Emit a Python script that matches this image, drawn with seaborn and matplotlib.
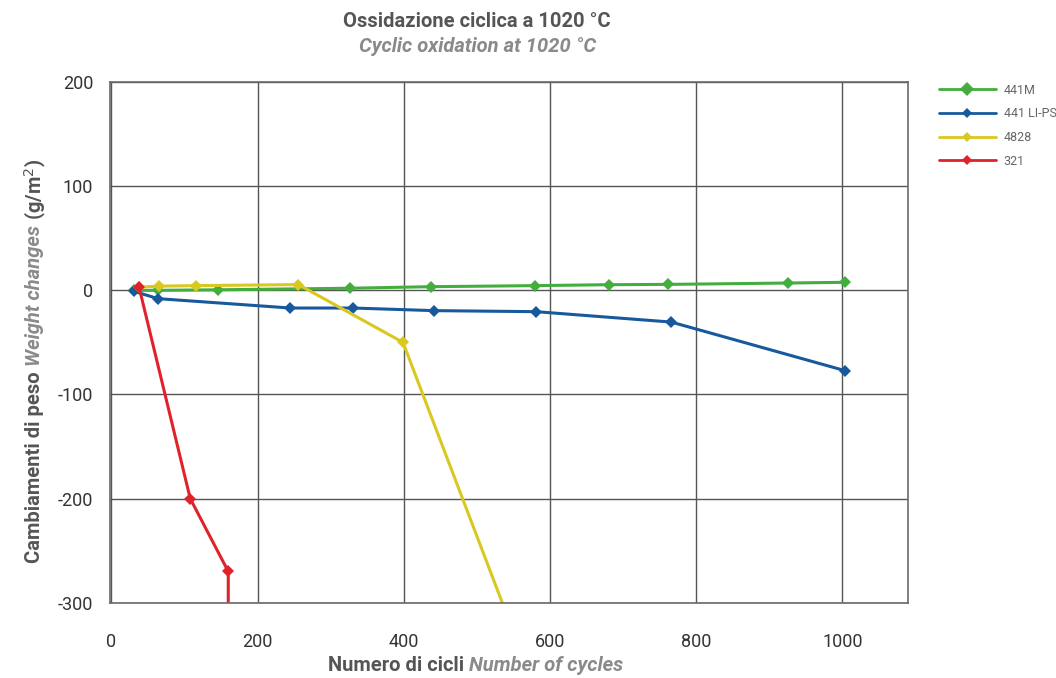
import numpy as np
import pandas as pd
import seaborn as sns
import matplotlib.pyplot as plt
import matplotlib.ticker as ticker
from matplotlib.lines import Line2D

# values
cycles_441m = [31, 64, 146, 327, 437, 580, 681, 762, 926, 1004]
weight_441m = [0, 0, 0.5, 2, 3.5, 4.5, 5.4, 5.7, 7, 7.7]

cycles_441li = [31, 64, 245, 331, 441, 581, 766, 1003]
weight_441li = [-1, -8, -17, -17, -19.5, -20.5, -30.5, -77]

cycles_4828 = [38, 65, 116, 256, 399, 600]
weight_4828 = [3, 4, 4.5, 5.5, -50, -420]

cycles_321 = [38, 108, 160, 160]
weight_321 = [3, -200, -270, -400]

labels = ["441M", "441 LI-PS", "4828", "321"]
colors = ["#43ad3d", "#17599c", "#d8c81f", "#e0232b"]
x_ticks = [0, 200, 400, 600, 800, 1000]
y_ticks = [-300, -200, -100, 0, 100, 200]

sns.set_theme(style="white")
plt.rcParams['font.family'] = ['Roboto', 'DejaVu Sans']
plt.rcParams['axes.unicode_minus'] = False

frames = []
for lab, xs, ys in zip(labels,
                       [cycles_441m, cycles_441li, cycles_4828, cycles_321],
                       [weight_441m, weight_441li, weight_4828, weight_321]):
    frames.append(pd.DataFrame({"cycles": xs, "weight": ys, "alloy": lab}))
df = pd.concat(frames, ignore_index=True)

fig = plt.figure(figsize=(10.56, 6.78), dpi=100)
ax = fig.add_axes([0.104, 0.111, 0.756, 0.768])

for lab, col in zip(labels, colors):
    sub = df[df["alloy"] == lab]
    sns.lineplot(data=sub, x="cycles", y="weight", ax=ax, color=col,
                 marker="D", markersize=6, markeredgewidth=0, linewidth=2.2,
                 sort=False, estimator=None, legend=False)

ax.set_xlim(-2, 1090)
ax.set_ylim(-300, 200)
ax.xaxis.set_major_locator(ticker.FixedLocator(x_ticks))
ax.yaxis.set_major_locator(ticker.FixedLocator(y_ticks))
ax.grid(True, color="#555555", linewidth=1.0)
for s in ax.spines.values():
    s.set_color("#6a6a6a")
    s.set_linewidth(1.2)
ax.tick_params(axis="x", length=0, pad=22, labelsize=13, labelcolor="#333333")
ax.tick_params(axis="y", length=0, pad=12, labelsize=13, labelcolor="#333333")
for lbl in ax.get_xticklabels():
    lbl.set_x(lbl.get_position()[0])
ax.set_xlabel("")
ax.set_ylabel("")

# titles
fig.text(0.452, 0.968, "Ossidazione ciclica a 1020 °C", ha="center", va="center",
         fontsize=14.5, fontweight="bold", color="#555555")
fig.text(0.452, 0.931, "Cyclic oxidation at 1020 °C", ha="center", va="center",
         fontsize=14.5, fontstyle="italic", fontweight="bold", color="#8a8a8a")

# x label, two styles, centred around x = 500
t1 = fig.text(0.45, 0.019, "Numero di cicli ", ha="right", va="center",
              fontsize=14.5, fontweight="bold", color="#555555")
t2 = ax.annotate("Number of cycles", xy=(1, 0.5), xycoords=t1, ha="left", va="center",
                 fontsize=14.5, fontweight="bold", fontstyle="italic", color="#8a8a8a")
fig.canvas.draw()
w1 = t1.get_window_extent().width
w2 = t2.get_window_extent().width
t1.set_x(0.45 + ((w1 + w2) / 2 - w2) / fig.bbox.width)

# y label, three pieces stacked upward
y1 = fig.text(0.033, 0.17, "Cambiamenti di peso ", rotation=90, ha="center", va="bottom",
              fontsize=14.5, fontweight="bold", color="#555555")
y2 = ax.annotate("Weight changes", xy=(0.5, 1), xycoords=y1, rotation=90,
                 ha="center", va="bottom", fontsize=14.5, fontweight="bold",
                 fontstyle="italic", color="#8a8a8a")
y3 = ax.annotate(" (g/m$^2$)", xy=(0.5, 1), xycoords=y2, rotation=90,
                 ha="center", va="bottom", fontsize=14.5, fontweight="bold",
                 color="#555555")

# legend outside on the right
handles = [Line2D([], [], color=c, marker="D", markersize=7.5 if i == 0 else 5.5,
                  markeredgewidth=0, linewidth=2) for i, c in enumerate(colors)]
leg = fig.legend(handles, labels, loc="upper left", bbox_to_anchor=(0.884, 0.884),
                 frameon=False, fontsize=9, handlelength=4.6, labelspacing=0.85,
                 handletextpad=0.6, borderaxespad=0)
for t in leg.get_texts():
    t.set_color("#666666")

fig.savefig("out.png", dpi=100)
